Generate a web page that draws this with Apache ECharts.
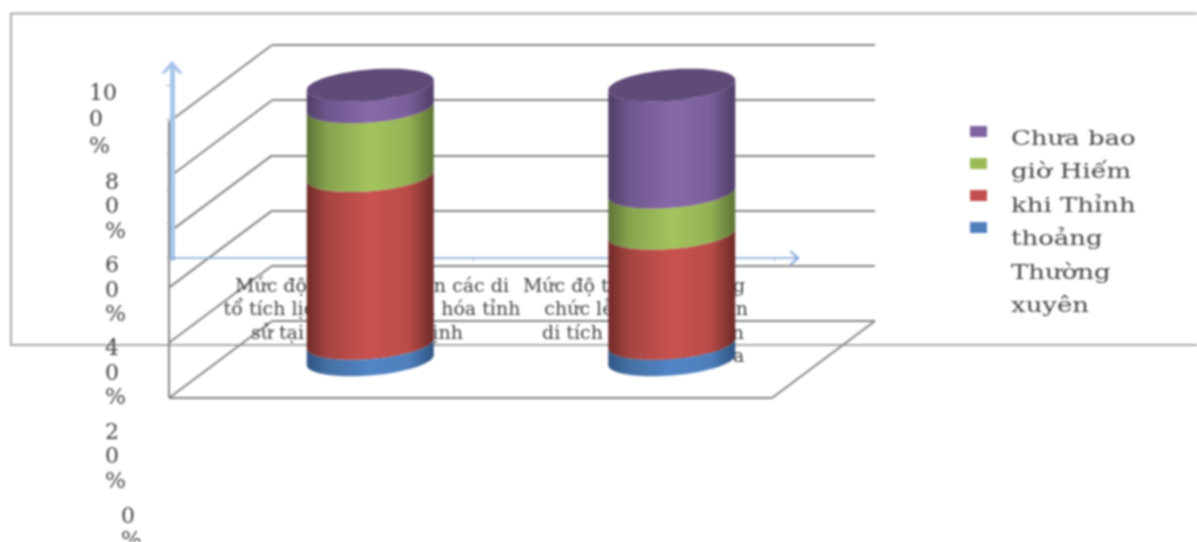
<!DOCTYPE html>
<html>
<head>
<meta charset="utf-8">
<style>
html,body{margin:0;padding:0;background:#fff;overflow:hidden}
#main{width:1197px;height:542px;filter:blur(0.8px)}
</style>
<script src="https://cdn.jsdelivr.net/npm/echarts@6/dist/echarts.min.js"></script>
</head>
<body>
<div id="main"></div>
<script>
// ---- data ----
const categories = [
  "Mức độ quan tâm đến các di\ntổ tích lịch sử của văn hóa tỉnh\nsử tại tỉnh Ninh Thịnh     ",
  "Mức độ tham gia trùng\n    chức lễ hội ở các đền\n   di tích ở trên địa bàn\n                   Thanh Hóa"
];
const thuongXuyen = [6, 6];
const thinhThoang = [61, 40];
const hiemKhi = [25, 15];
const chuaBaoGio = [8, 39];
const seriesNames = ["Chưa bao giờ", "Hiếm khi", "Thỉnh thoảng", "Thường xuyên"];
const legendLines = ["Chưa bao", "giờ Hiếm", "khi Thỉnh", "thoảng", "Thường", "xuyên"];
const valueTicks = [0, 20, 40, 60, 80, 100];

// ---- look ----
const palette = {
  blue:   {base:"#4f81bd", stops:["#2f5583","#4470a4","#5285c6","#4f7fbc","#2f5583"]},
  red:    {base:"#c0504d", stops:["#6e2a28","#a54441","#ca524f","#b94c48","#6e2a28"]},
  green:  {base:"#9bbb59", stops:["#5d7336","#87a34e","#a4c45e","#94b254","#5d7336"]},
  purple: {base:"#8064a2", stops:["#4f3d66","#6f568e","#8769a9","#7a5f9b","#4f3d66"]}
};
const capColor = "#5f4a78";
const frameColor = "#858585";
const textColor = "#444";
const RX = 63.5, RY = 15.5, SHEAR = 5;
const DEPTH_X = -103, DEPTH_Y = 77;

function arc(cx, cy, reverse) {
  const pts = [];
  const n = 40;
  for (let i = 0; i <= n; i++) {
    const t = Math.PI * (reverse ? (n - i) : i) / n;
    pts.push([cx + RX * Math.cos(t), cy + RY * Math.sin(t) - SHEAR * Math.cos(t)]);
  }
  return pts;
}
function gradient(stops) {
  const pos = [0, 0.16, 0.5, 0.8, 1];
  return new echarts.graphic.LinearGradient(0, 0, 1, 0, stops.map((c, i) => ({offset: pos[i], color: c})));
}
function cylinderSeries(name, values, below, style, isTop) {
  return {
    type: "custom", name, xAxisIndex: 0, yAxisIndex: 0, z: 10,
    itemStyle: {color: style.base},
    encode: {x: 0, y: [1, 2]},
    data: values.map((v, i) => [i, below[i], below[i] + v]),
    renderItem(params, api) {
      const lo = api.coord([api.value(0), api.value(1)]);
      const hi = api.coord([api.value(0), api.value(2)]);
      const children = [{
        type: "polygon",
        shape: {points: arc(hi[0], hi[1], false).concat(arc(lo[0], lo[1], true))},
        style: {fill: gradient(style.stops)}
      }];
      if (isTop) {
        const cap = [];
        for (let i = 0; i <= 72; i++) {
          const t = 2 * Math.PI * i / 72;
          cap.push([hi[0] + RX * Math.cos(t), hi[1] + RY * Math.sin(t) - SHEAR * Math.cos(t)]);
        }
        children.push({type: "polygon", shape: {points: cap}, style: {fill: capColor}});
      }
      return {type: "group", children};
    }
  };
}
const sumA = thuongXuyen.map(() => 0);
const sumB = thuongXuyen.slice();
const sumC = sumB.map((v, i) => v + thinhThoang[i]);
const sumD = sumC.map((v, i) => v + hiemKhi[i]);

const chart = echarts.init(document.getElementById("main"), null, {renderer: "canvas"});
chart.setOption({
  backgroundColor: "#fff",
  animation: false,
  grid: [
    {left: 219.5, top: 85, width: 603, height: 275, outerBoundsMode: "none"},   // cylinders
    {left: 272, top: 45, width: 603, height: 276, outerBoundsMode: "none"},     // back wall
    {left: 89, top: 124, width: 10, height: 417, outerBoundsMode: "none"},      // value labels
    {left: 172, top: 67, width: 623, height: 191, outerBoundsMode: "none"},     // blue axes
    {left: 241, top: 200, width: 524, height: 75, outerBoundsMode: "none"}      // category labels
  ],
  xAxis: [
    {gridIndex: 0, type: "category", data: categories, show: false},
    {gridIndex: 1, type: "value", min: 0, max: 1, show: false},
    {gridIndex: 2, type: "value", min: 0, max: 1, show: false},
    {gridIndex: 3, type: "value", min: 0, max: 2.07, interval: 1, z: 3,
      axisLine: {show: true, onZero: false, lineStyle: {color: "#7fa7d8", width: 1.5},
        symbol: ["none", "path://M0,12L10,0L20,12L17,12L10,4L3,12Z"], symbolSize: [16, 18]},
      axisTick: {show: true, length: 3, lineStyle: {color: "#7fa7d8"}},
      axisLabel: {show: false}, splitLine: {show: false}},
    {gridIndex: 4, type: "category", data: categories, z: 4,
      axisLine: {show: false}, axisTick: {show: false}, splitLine: {show: false},
      axisLabel: {show: true, interval: 0, margin: 0, color: textColor, lineHeight: 23.5,
        fontFamily: "DejaVu Serif", fontSize: 19, overflow: "none", width: 500}}
  ],
  yAxis: [
    {gridIndex: 0, type: "value", min: 0, max: 100, show: false},
    {gridIndex: 1, type: "value", min: 0, max: 100, interval: 20, z: 1,
      axisLine: {show: false}, axisTick: {show: false}, axisLabel: {show: false},
      splitLine: {show: true, lineStyle: {color: frameColor, width: 2}}},
    {gridIndex: 2, type: "value", min: 0, max: 100, interval: 20, z: 5,
      axisLine: {show: false}, axisTick: {show: false}, splitLine: {show: false},
      axisLabel: {show: true, margin: 0, align: "left", color: textColor,
        formatter(v) {
          const s = String(v);
          if (v === 100) return "{t|10}\n{t|0}\n{t|%}\n{b| }";
          if (v === 0) return "{z|0}\n{z|%}\n{z| }";
          return "{m|" + s[0] + "}\n{m|0}\n{m|%}";
        },
        rich: {
          t: {fontFamily: "DejaVu Serif", fontSize: 22, lineHeight: 26.5, color: textColor},
          b: {fontSize: 6, lineHeight: 7},
          m: {fontFamily: "DejaVu Serif", fontSize: 22, lineHeight: 24.5, color: textColor, padding: [0, 0, 0, 16]},
          z: {fontFamily: "DejaVu Serif", fontSize: 22, lineHeight: 23.5, color: textColor, padding: [0, 0, 0, 32]}
        }}},
    {gridIndex: 3, type: "value", min: 0, max: 110.4, interval: 20, z: 3,
      axisLine: {show: true, onZero: false, lineStyle: {color: "#a8c6ea", width: 5},
        symbol: ["none", "path://M0,12L10,0L20,12L16,12L10,5L4,12Z"], symbolSize: [22, 14]},
      axisTick: {show: true, inside: false, length: 6, lineStyle: {color: "#9dbde2", width: 1}},
      axisLabel: {show: false}, splitLine: {show: false}},
    {gridIndex: 4, type: "value", show: false}
  ],
  legend: {
    orient: "vertical", left: 970, top: 126, padding: 0, itemWidth: 17, itemHeight: 11, itemGap: 21,
    icon: "rect", selectedMode: false, data: seriesNames,
    formatter: () => "", textStyle: {fontSize: 1, padding: 0}
  },
  series: [
    {
      type: "custom", name: "wall", xAxisIndex: 1, yAxisIndex: 1, z: 1, silent: true,
      data: valueTicks.map(v => [v]),
      encode: {y: 0},
      renderItem(params, api) {
        const v = api.value(0);
        const back = api.coord([0, v]);
        const line = (a, b) => ({type: "line", shape: {x1: a[0], y1: a[1], x2: b[0], y2: b[1]},
          style: {stroke: frameColor, lineWidth: 2}});
        const front = [back[0] + DEPTH_X, back[1] + DEPTH_Y];
        const children = [line(back, front)];
        if (v === 0) {
          const backRight = api.coord([1, 0]);
          const frontRight = [backRight[0] + DEPTH_X, backRight[1] + DEPTH_Y];
          const topBack = api.coord([0, 100]);
          children.push(line(front, frontRight));
          children.push(line(frontRight, backRight));
          children.push(line(front, [topBack[0] + DEPTH_X, topBack[1] + DEPTH_Y]));
        }
        return {type: "group", children};
      }
    },
    cylinderSeries(seriesNames[3], thuongXuyen, sumA, palette.blue, false),
    cylinderSeries(seriesNames[2], thinhThoang, sumB, palette.red, false),
    cylinderSeries(seriesNames[1], hiemKhi, sumC, palette.green, false),
    cylinderSeries(seriesNames[0], chuaBaoGio, sumD, palette.purple, true)
  ],
  graphic: [
    {type: "polyline", z: 0, silent: true,
      shape: {points: [[1197, 13.5], [11, 13.5], [11, 345], [1197, 345]]},
      style: {stroke: "#a9a9a9", lineWidth: 2, fill: null}},
    {type: "text", left: 1011, top: 123, scaleX: 1.33, z: 20, silent: true,
      style: {text: legendLines.join("\n"), fontFamily: "DejaVu Serif", fontSize: 19.5,
        lineHeight: 33.5, fill: textColor, textAlign: "left"}}
  ]
});
</script>
</body>
</html>
